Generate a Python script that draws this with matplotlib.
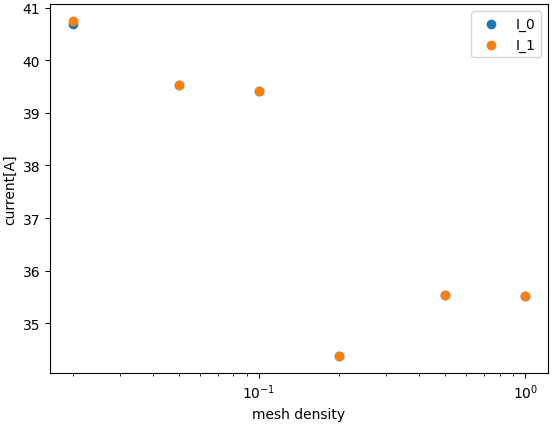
import matplotlib
matplotlib.use("Agg")
import matplotlib.pyplot as plt

mesh_density = [0.02, 0.05, 0.1, 0.2, 0.5, 1.0]
I_0 = [40.69, 39.53, 39.41, 34.37, 35.53, 35.51]
I_1 = [40.75, 39.54, 39.41, 34.38, 35.53, 35.51]

fig = plt.figure(figsize=(5.53, 4.27), dpi=100)
ax = fig.add_axes([0.0904, 0.124, 0.9006, 0.864])
ax.scatter(mesh_density, I_0, label="I_0")
ax.scatter(mesh_density, I_1, label="I_1")
ax.set_xscale("log")
ax.set_xlabel("mesh density")
ax.set_ylabel("current[A]")
ax.legend()
fig.savefig("out.png", dpi=100)
